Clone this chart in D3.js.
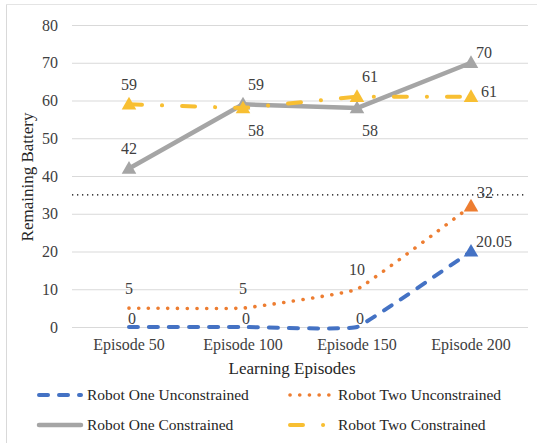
<!DOCTYPE html>
<html>
<head>
<meta charset="utf-8">
<script src="https://cdn.jsdelivr.net/npm/d3@7"></script>
</head>
<body style="margin:0;background:#fff;font-family:'Liberation Serif'">
<svg id="chart" width="537" height="443" font-family="Liberation Serif" style="display:block;font-family:'Liberation Serif'"></svg>
<script>
// ---------- data ----------
const categories = ["Episode 50", "Episode 100", "Episode 150", "Episode 200"];
const yTicks = [0, 10, 20, 30, 40, 50, 60, 70, 80];
const robotOneUnconstrained = [0, 0, 0, 20.05];
const robotTwoUnconstrained = [5, 5, 10, 32];
const robotOneConstrained = [42, 59, 58, 70];
const robotTwoConstrained = [59, 58, 61, 61];
const thresholdValue = 35;
const seriesNames = ["Robot One Unconstrained", "Robot Two Unconstrained", "Robot One Constrained", "Robot Two Constrained"];
// where each data label sits relative to its point
const labelPlacement = [
  ["tight", "tight", "tight", "right"],
  ["above", "above", "above", "rightHigh"],
  ["above", "aboveR", "belowR", "right"],
  ["above", "belowR", "aboveR", "rightLow"]
];

// ---------- layout / style ----------
const FONT = "Liberation Serif";
const svg = d3.select("#chart");
const W = 537, H = 443;
const plot = { left: 72, right: 528, top: 25, bottom: 327 };
const textDark = "#262626", textGray = "#404040";

const x = d3.scaleBand().domain(categories).range([plot.left, plot.right]).padding(0);
const y = d3.scaleLinear().domain([0, 80]).range([plot.bottom, plot.top]);
const cx = c => x(c) + x.bandwidth() / 2;

const smooth = d3.curveCardinal.tension(0.75);
const styles = [
  { color: "#4472C4", width: 4, dash: "9 11", cap: "round", curve: smooth, markers: [false, false, false, true] },
  { color: "#ED7D31", width: 3.6, dash: "0.1 9.6", cap: "round", curve: smooth, markers: [false, false, false, true] },
  { color: "#A5A5A5", width: 4.5, dash: null, cap: "round", curve: d3.curveLinear, markers: [true, true, true, true] },
  { color: "#F8BF32", width: 4, dash: "13 20 0.1 20", cap: "round", curve: d3.curveLinear, markers: [true, true, true, true] }
];
const allSeries = [robotOneUnconstrained, robotTwoUnconstrained, robotOneConstrained, robotTwoConstrained];

function setFont(sel, size) {
  sel.attr("font-family", FONT).attr("font-size", size)
     .style("font-family", `"${FONT}"`).style("font-size", size + "px");
  return sel;
}

// frame
svg.append("rect").attr("width", W).attr("height", H).attr("fill", "#fff");
svg.append("line").attr("x1", 6.5).attr("x2", 6.5).attr("y1", 4).attr("y2", H).attr("stroke", "#d9d9d9");
svg.append("line").attr("x1", 6).attr("x2", W).attr("y1", 4.5).attr("y2", 4.5).attr("stroke", "#e4e4e4");

// y axis with gridlines
const yAxis = svg.append("g")
  .attr("transform", `translate(${plot.left},0)`)
  .call(d3.axisLeft(y).tickValues(yTicks).tickSize(-(plot.right - plot.left)).tickPadding(14));
yAxis.attr("font-family", FONT).attr("font-size", 16);
yAxis.select(".domain").remove();
yAxis.selectAll(".tick line").attr("stroke", "#d9d9d9").attr("stroke-width", 1);
setFont(yAxis.selectAll(".tick text").attr("fill", textGray), 16);

// x axis
const xAxis = svg.append("g")
  .attr("transform", `translate(0,${plot.bottom})`)
  .call(d3.axisBottom(x).tickSize(0).tickPadding(12));
xAxis.attr("font-family", FONT).attr("font-size", 16);
xAxis.select(".domain").remove();
setFont(xAxis.selectAll(".tick text").attr("fill", textGray), 16);

// axis titles
setFont(svg.append("text")
  .attr("transform", `translate(33,${(plot.top + plot.bottom) / 2 + 1}) rotate(-90)`)
  .attr("text-anchor", "middle").attr("fill", textDark), 17)
  .text("Remaining Battery");
setFont(svg.append("text")
  .attr("x", 292).attr("y", 374)
  .attr("text-anchor", "middle").attr("fill", textDark), 17)
  .text("Learning Episodes");

// threshold dotted line
svg.append("line")
  .attr("x1", plot.left).attr("x2", 524)
  .attr("y1", y(thresholdValue)).attr("y2", y(thresholdValue))
  .attr("stroke", "#000").attr("stroke-width", 1.3).attr("stroke-dasharray", "1.3 3.7");

// series lines + markers
const tri = d3.symbol().type(d3.symbolTriangle).size(92);
allSeries.forEach((vals, i) => {
  const st = styles[i];
  const pts = vals.map((v, j) => [cx(categories[j]), y(v)]);
  const line = d3.line().curve(st.curve);
  const p = svg.append("path")
    .attr("d", line(pts))
    .attr("fill", "none")
    .attr("stroke", st.color)
    .attr("stroke-width", st.width)
    .attr("stroke-linecap", st.cap)
    .attr("stroke-linejoin", "round");
  if (st.dash) p.attr("stroke-dasharray", st.dash);
  pts.forEach((pt, j) => {
    if (st.markers[j]) {
      svg.append("path")
        .attr("d", tri())
        .attr("transform", `translate(${pt[0]},${pt[1] + 1})`)
        .attr("fill", st.color);
    }
  });
});

// data labels
const placeOffsets = {
  tight: { dx: 3, dy: -9, anchor: "middle" },
  above: { dx: 0, dy: -20, anchor: "middle" },
  aboveR: { dx: 13, dy: -20, anchor: "middle" },
  belowR: { dx: 13, dy: 22, anchor: "middle" },
  right: { dx: 5, dy: -10, anchor: "start" },
  rightHigh: { dx: 6, dy: -14, anchor: "start" },
  rightLow: { dx: 10, dy: -5, anchor: "start" }
};
allSeries.forEach((vals, i) => {
  vals.forEach((v, j) => {
    const o = placeOffsets[labelPlacement[i][j]];
    setFont(svg.append("text")
      .attr("x", cx(categories[j]) + o.dx)
      .attr("y", y(v) + o.dy)
      .attr("dy", "0.35em")
      .attr("text-anchor", o.anchor)
      .attr("fill", textGray), 16)
      .text(String(v));
  });
});

// legend
const legendPos = [
  { lx: 37, ly: 395 }, { lx: 288, ly: 395 },
  { lx: 37, ly: 425 }, { lx: 288, ly: 425 }
];
seriesNames.forEach((name, i) => {
  const st = styles[i];
  const g = svg.append("g").attr("transform", `translate(${legendPos[i].lx},${legendPos[i].ly})`);
  const ln = g.append("line")
    .attr("x1", 2).attr("x2", 44).attr("y1", 0).attr("y2", 0)
    .attr("stroke", st.color).attr("stroke-width", st.width)
    .attr("stroke-linecap", st.cap);
  if (st.dash) ln.attr("stroke-dasharray", st.dash);
  setFont(g.append("text")
    .attr("x", 50).attr("y", 0).attr("dy", "0.35em")
    .attr("fill", textDark), 15.5)
    .text(name);
});
</script>
</body>
</html>
